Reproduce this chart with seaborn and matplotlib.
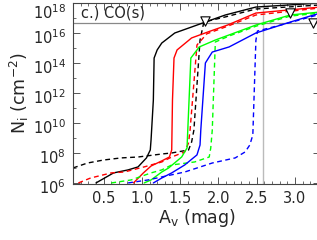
import numpy as np
import pandas as pd
import matplotlib
matplotlib.use('Agg')
import matplotlib.pyplot as plt
import matplotlib.ticker as mticker
import matplotlib.transforms as mtransforms
import seaborn as sns

# Av (mag) and log10 N (cm^-2)
av_k_solid = [0.40, 0.63, 0.82, 0.95, 1.06, 1.11, 1.12, 1.15, 1.16, 1.20, 1.26, 1.43, 1.65, 1.83, 2.09, 2.49, 3.33]
lg_k_solid = [6.0, 6.67, 6.87, 7.07, 7.67, 8.2, 8.87, 11.53, 14.33, 14.87, 15.33, 16.0, 16.4, 16.73, 17.2, 17.73, 18.0]
av_k_dash = [0.10, 0.29, 0.50, 0.73, 0.95, 1.26, 1.39, 1.61, 1.65, 1.68, 1.76, 1.81, 2.09, 2.49, 3.33]
lg_k_dash = [7.0, 7.33, 7.53, 7.67, 7.73, 7.93, 8.0, 8.2, 8.73, 9.53, 15.53, 16.73, 17.07, 17.6, 17.87]

av_r_solid = [0.89, 1.02, 1.12, 1.26, 1.36, 1.39, 1.40, 1.42, 1.46, 1.65, 1.88, 2.12, 2.49, 3.33]
lg_r_solid = [6.0, 6.67, 7.13, 7.47, 7.73, 8.2, 11.53, 14.33, 14.87, 15.67, 16.1, 16.53, 17.33, 17.73]
av_r_dash = [0.17, 0.33, 0.60, 0.77, 1.03, 1.26, 1.39, 1.56, 1.61, 1.63, 1.72, 1.85, 2.12, 2.49, 3.33]
lg_r_dash = [6.0, 6.33, 6.67, 6.73, 7.07, 7.4, 7.73, 8.07, 8.67, 9.53, 15.2, 15.95, 16.45, 17.2, 17.67]

av_g_solid = [1.03, 1.12, 1.26, 1.35, 1.52, 1.59, 1.60, 1.64, 1.75, 1.96, 2.14, 2.49, 2.94, 3.33]
lg_g_solid = [6.0, 6.2, 6.73, 7.0, 7.73, 8.33, 9.53, 14.33, 15.07, 15.53, 15.87, 16.53, 17.2, 17.4]
av_g_dash = [0.60, 0.86, 1.12, 1.26, 1.39, 1.69, 1.88, 1.90, 1.92, 1.96, 2.14, 2.49, 2.94, 3.33]
lg_g_dash = [6.0, 6.2, 6.67, 6.87, 7.2, 7.4, 7.73, 8.33, 9.53, 15.4, 15.8, 16.45, 17.13, 17.33]

av_b_solid = [1.15, 1.26, 1.39, 1.56, 1.72, 1.76, 1.77, 1.83, 1.92, 2.14, 2.49, 2.94, 3.33]
lg_b_solid = [6.0, 6.33, 6.67, 7.2, 7.87, 8.53, 9.53, 14.0, 14.73, 15.07, 16.0, 16.73, 17.33]
av_b_dash = [0.82, 1.08, 1.26, 1.56, 1.92, 2.22, 2.35, 2.41, 2.45, 2.49, 2.51, 2.94, 3.33]
lg_b_dash = [6.0, 6.2, 6.4, 6.73, 7.33, 7.67, 8.07, 8.53, 9.2, 15.5, 16.13, 16.7, 17.25]

# triangle markers
av_tri = [1.83, 2.94, 3.23]
lg_tri = [16.8, 17.33, 16.67]

lg_hline = 16.67
av_vline = 2.58

curvas = [
    (av_k_solid, lg_k_solid, 'black', '-'),
    (av_k_dash, lg_k_dash, 'black', '--'),
    (av_r_solid, lg_r_solid, 'red', '-'),
    (av_r_dash, lg_r_dash, 'red', '--'),
    (av_g_solid, lg_g_solid, '#00ff00', '-'),
    (av_g_dash, lg_g_dash, '#00ff00', '--'),
    (av_b_solid, lg_b_solid, 'blue', '-'),
    (av_b_dash, lg_b_dash, 'blue', '--'),
]

sns.set_style('ticks')
plt.rcParams['font.family'] = ['DejaVu Sans']
fig = plt.figure(figsize=(3.17, 2.40), dpi=100)
ax = fig.add_axes([73 / 317, 1 - 184 / 240, 1 - 73 / 317 + 0.01, 181 / 240])

ax.axhline(10 ** lg_hline, color='#888888', lw=0.9, zorder=1)
ax.axvline(av_vline, color='#bbbbbb', lw=1.0, zorder=1)

for av, lg, cor, estilo in curvas:
    df = pd.DataFrame({'Av': av, 'N': 10 ** np.array(lg)})
    sns.lineplot(data=df, x='Av', y='N', color=cor, linestyle=estilo, lw=1.0,
                 sort=False, estimator=None, ax=ax,
                 dashes=False)
    if estilo == '--':
        ax.lines[-1].set_dashes([3.5, 2.5])

ax.scatter(av_tri, 10 ** np.array(lg_tri), marker='v', s=45, facecolors='white',
           edgecolors='black', linewidths=0.8, zorder=5)

ax.set_yscale('log')
ax.set_xlim(0.1, 3.33)
ax.set_ylim(10 ** 5.93, 1e18)

ax.yaxis.set_major_locator(mticker.FixedLocator([10.0 ** k for k in range(6, 19, 2)]))
ax.yaxis.set_minor_locator(mticker.FixedLocator([10.0 ** k for k in range(7, 18, 2)]))
ax.yaxis.set_major_formatter(mticker.LogFormatterMathtext())
ax.yaxis.set_minor_formatter(mticker.NullFormatter())
ax.xaxis.set_major_locator(mticker.FixedLocator([0.5, 1.0, 1.5, 2.0, 2.5, 3.0]))
ax.xaxis.set_minor_locator(mticker.MultipleLocator(0.1))
ax.xaxis.set_major_formatter(mticker.FormatStrFormatter('%.1f'))

ax.tick_params(which='both', direction='in', top=True, right=True, color='#555555')
ax.tick_params(which='major', length=5, width=0.7, labelsize=10.5, pad=5)
ax.tick_params(which='minor', length=2.5, width=0.6)
for s in ax.spines.values():
    s.set_linewidth(0.8)
    s.set_color('#444444')

# desloca os rótulos do eixo y um pouco para baixo (o de cima mais, para não cortar)
fig.canvas.draw()
rotulos_y = ax.get_yticklabels()
for i, lbl in enumerate(rotulos_y):
    dy = 8 if i == len(rotulos_y) - 1 else 3
    desloc = mtransforms.ScaledTranslation(0, -dy / 100, fig.dpi_scale_trans)
    lbl.set_transform(lbl.get_transform() + desloc)

ax.set_xlabel(r'A$_{\rm v}$ (mag)', fontsize=12.5, labelpad=1)
ax.set_ylabel(r'N$_{\rm i}$ (cm$^{-2}$)', fontsize=12.5, labelpad=1)
ax.text(0.2, 10 ** 17.35, 'c.) CO(s)', fontsize=10.5, va='center', ha='left')

fig.savefig('out.png', dpi=100)
